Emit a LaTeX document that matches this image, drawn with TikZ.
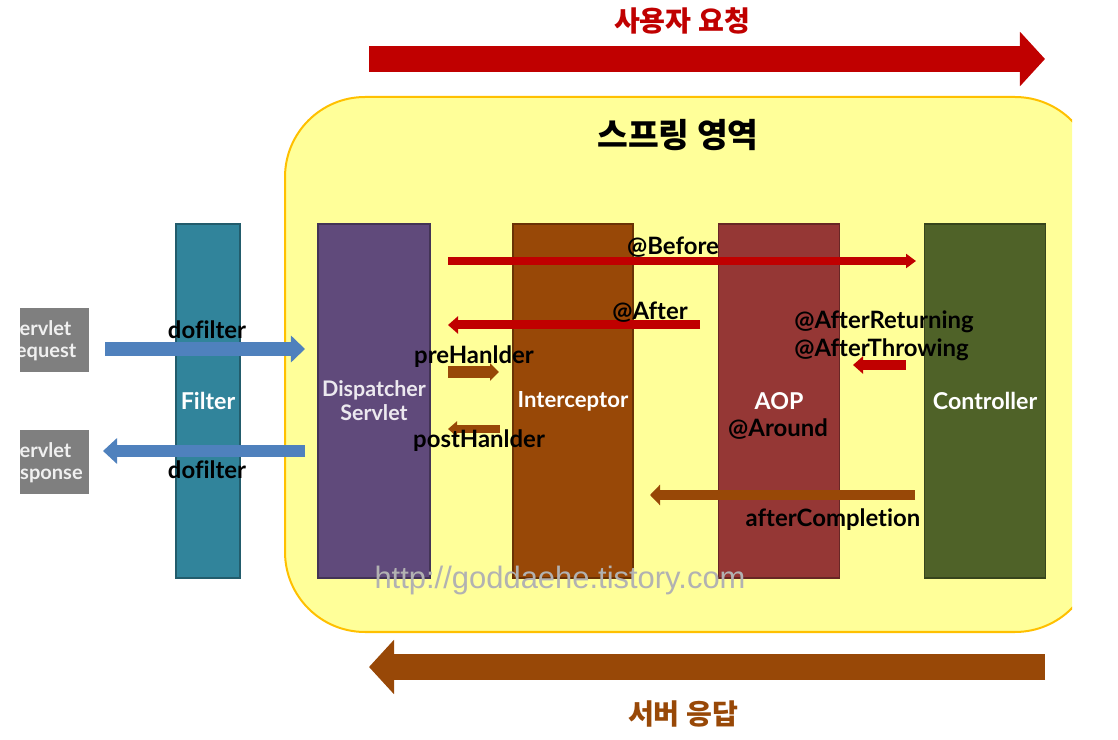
\documentclass[tikz,border=0pt]{standalone}
\usepackage{fontspec}
\setmainfont{Lato}[Ligatures=NoCommon]
\newfontfamily\kor{Noto Sans CJK KR}
\newfontfamily\web{Liberation Sans}
\usetikzlibrary{arrows.meta}

\definecolor{reqred}{HTML}{C00000}
\definecolor{resbrown}{HTML}{984807}
\definecolor{springfill}{HTML}{FFFF99}
\definecolor{springline}{HTML}{FFC000}
\definecolor{filterteal}{HTML}{31849B}
\definecolor{dispviolet}{HTML}{604A7B}
\definecolor{interbrown}{HTML}{984807}
\definecolor{aopred}{HTML}{953735}
\definecolor{ctrlgreen}{HTML}{4F6228}
\definecolor{flowblue}{HTML}{4F81BD}
\definecolor{servgray}{HTML}{7F7F7F}

\tikzset{
  bar/.style={draw=#1!70!black, fill=#1, minimum height=3.54cm, inner sep=0pt,
    text=white, align=center, font=\bfseries\fontsize{6.6}{6.8}\selectfont},
  tag/.style={inner sep=0pt, font=\bfseries\fontsize{6.8}{8}\selectfont},
  servbox/.style={fill=servgray, minimum width=1.29cm, minimum height=0.64cm, inner sep=0pt},
  servtext/.style={inner sep=0pt, text=white!94!black, align=center,
    font=\bfseries\fontsize{5.7}{6.3}\selectfont},
  title/.style={inner sep=0pt, font=\kor\bfseries\fontsize{8}{9}\selectfont},
  bigflow/.style={line width=0.26cm, -{Triangle[length=0.25cm,width=0.53cm]}}
}

\begin{document}
\begin{tikzpicture}[x=0.01cm,y=-0.01cm]
\useasboundingbox (0,0) rectangle (1118,740);

% spring area, cut at the right
\begin{scope}
\clip (0,0) rectangle (1072,740);
\draw[fill=springfill, draw=springline, line width=0.02cm, rounded corners=0.8cm] (285,97) rectangle (1095,632);
\end{scope}
\node[title, font=\kor\bfseries\fontsize{9.5}{10}\selectfont] (spring) at (678,135) {스프링 영역};

% request / response boxes, cut at the left
\begin{scope}
\clip (20,0) rectangle (1118,740);
\node[servbox] (req) at (24,340) {};
\node[servtext] at (40,341) {Servlet\\Request};
\node[servbox] (res) at (24,462) {};
\node[servtext] at (40,463) {Servlet\\Response};
\end{scope}

% bars
\node[bar=filterteal, minimum width=0.64cm] (filter) at (208,401) {Filter};
\node[bar=dispviolet, minimum width=1.12cm, text=white!88!dispviolet,
  font=\bfseries\fontsize{6.1}{6.8}\selectfont] (disp) at (374,401) {Dispatcher\\Servlet};
\node[bar=interbrown, minimum width=1.2cm, font=\bfseries\fontsize{6.3}{7}\selectfont] (inter) at (573,401) {Interceptor};
\node[bar=aopred, minimum width=1.21cm] (aop) at (779,401) {AOP};
\node[bar=ctrlgreen, minimum width=1.21cm] (ctrl) at (985,401) {Controller};

% user request / server response
\coordinate (userA) at (369,59);
\coordinate (userB) at (1045,59);
\draw[bigflow, reqred] (userA) -- (userB);
\node[title, text=reqred] (user) at (682,21) {사용자 요청};
\coordinate (servA) at (1045,667);
\coordinate (servB) at (369,667);
\draw[bigflow, resbrown] (servA) -- (servB);
\node[title, text=resbrown] (serv) at (683,714) {서버 응답};

% dofilter
\coordinate (inA) at (105,349);
\coordinate (inB) at (305,349);
\draw[flowblue, line width=0.13cm, -{Triangle[length=0.14cm,width=0.26cm]}] (inA) -- (inB);
\coordinate (outA) at (305,451);
\coordinate (outB) at (103,451);
\draw[flowblue, line width=0.12cm, -{Triangle[length=0.14cm,width=0.25cm]}] (outA) -- (outB);
\node[tag] at (207,330) {dofilter};
\node[tag] at (207,470) {dofilter};

% handler interceptor
\coordinate (preA) at (448,372);
\coordinate (preB) at (499,372);
\draw[resbrown, line width=0.11cm, -{Triangle[length=0.09cm,width=0.17cm]}] (preA) -- (preB);
\node[tag] at (474,357) {preHanlder};
\coordinate (postA) at (500,429);
\coordinate (postB) at (448,429);
\draw[resbrown, line width=0.08cm, -{Triangle[length=0.09cm,width=0.15cm]}] (postA) -- (postB);
\node[tag] at (479,441) {postHanlder};

% advice
\coordinate (befA) at (448,261);
\coordinate (befB) at (916,261);
\draw[reqred, line width=0.08cm, -{Triangle[length=0.1cm,width=0.14cm]}] (befA) -- (befB);
\node[tag] at (673,247) {@Before};
\coordinate (aftA) at (700,325);
\coordinate (aftB) at (448,325);
\draw[reqred, line width=0.09cm, -{Triangle[length=0.1cm,width=0.17cm]}] (aftA) -- (aftB);
\node[tag] at (650,312) {@After};
\coordinate (retA) at (906,365);
\coordinate (retB) at (853,365);
\draw[reqred, line width=0.1cm, -{Triangle[length=0.1cm,width=0.17cm]}] (retA) -- (retB);
\node[tag, align=left] at (884,336) {@AfterReturning\\@AfterThrowing};
\node[tag] at (778,429) {@Around};

\coordinate (compA) at (915,495);
\coordinate (compB) at (650,495);
\draw[resbrown, line width=0.09cm, -{Triangle[length=0.1cm,width=0.2cm]}] (compA) -- (compB);
\node[tag] at (833,520) {afterCompletion};

\node[inner sep=0pt, text=black!30, font=\web\fontsize{8.8}{9}\selectfont] at (560,580) {http://goddaehe.tistory.com};
\end{tikzpicture}
\end{document}
